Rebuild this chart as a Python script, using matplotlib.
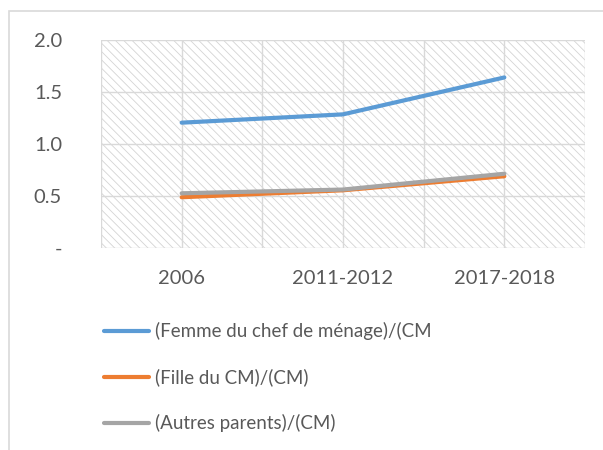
import matplotlib
matplotlib.use("Agg")
import matplotlib.pyplot as plt
from matplotlib.patches import Rectangle

categories = ["2006", "2011-2012", "2017-2018"]
femme = [1.205, 1.285, 1.64]
fille = [0.488, 0.555, 0.69]
autres = [0.526, 0.562, 0.714]
labels = ["(Femme du chef de ménage)/(CM", "(Fille du CM)/(CM)", "(Autres parents)/(CM)"]
colors = ["#5B9BD5", "#ED7D31", "#A5A5A5"]
yticks = [0, 0.5, 1.0, 1.5, 2.0]
yticklabels = ["-", "0.5", "1.0", "1.5", "2.0"]

plt.rcParams['font.family'] = ['Lato', 'DejaVu Sans']
plt.rcParams['hatch.linewidth'] = 0.6
plt.rcParams['hatch.color'] = '#d4d4d4'
txt = '#595959'

fig = plt.figure(figsize=(6.03, 4.5), dpi=100)
fig.patch.set_facecolor('white')
# outer chart border
fig.add_artist(Rectangle((9/603, -0.05), 1.2, 1 - 11/450 + 0.05, transform=fig.transFigure,
                         fill=False, edgecolor='#d9d9d9', linewidth=1.2))

ax = fig.add_axes([101/603, (450-248)/450, (585-101)/603, (248-40)/450])
ax.set_facecolor('white')
ax.add_patch(Rectangle((0, 0), 1, 1, transform=ax.transAxes, facecolor='white',
                       edgecolor='#d4d4d4', hatch='\\\\\\\\', linewidth=0, zorder=0))

x = list(range(len(categories)))
for vals, lab, col in zip([femme, fille, autres], labels, colors):
    ax.plot(x, vals, color=col, linewidth=3.0, label=lab, solid_capstyle='round', zorder=3)

ax.set_xlim(-0.5, 2.5)
ax.set_ylim(0, 2.0)
ax.set_yticks(yticks)
ax.set_yticklabels(yticklabels)
ax.set_xticks(x)
ax.set_xticklabels(categories)
for v in [-0.5, 0, 0.5, 1, 1.5, 2, 2.5]:
    ax.axvline(v, color='#d9d9d9', linewidth=1, zorder=1)
for v in yticks:
    ax.axhline(v, color='#d9d9d9', linewidth=1, zorder=1)
for s in ax.spines.values():
    s.set_visible(False)
ax.tick_params(axis='both', length=0, colors=txt, labelsize=14.5)
ax.tick_params(axis='y', pad=28)
ax.tick_params(axis='x', pad=16)

fig.legend(loc='upper left', bbox_to_anchor=(104/603, 1 - 322/450), frameon=False,
           fontsize=13.5, handlelength=2.4, handletextpad=0.3, labelspacing=1.5,
           labelcolor=txt, borderaxespad=0, borderpad=0)

fig.savefig("out.png", dpi=100, facecolor='white')
